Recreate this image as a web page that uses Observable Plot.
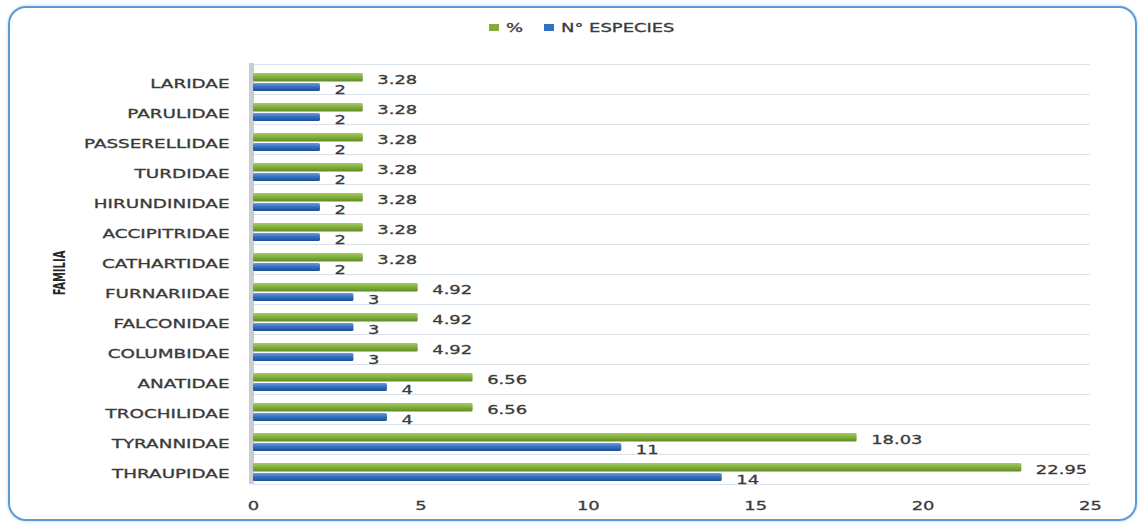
<!DOCTYPE html>
<html>
<head>
<meta charset="utf-8">
<script src="https://cdn.jsdelivr.net/npm/d3@7"></script>
<script src="https://cdn.jsdelivr.net/npm/@observablehq/plot@0.6"></script>
<style>
  html, body { margin: 0; padding: 0; background: #ffffff; }
  #wrap { position: relative; width: 1142px; height: 527px; overflow: hidden; background: #fff; }
  #frame { position: absolute; left: 8px; top: 6px; width: 1129px; height: 515px; box-sizing: border-box;
           border: 2.5px solid #5b9bd5; border-radius: 18px; box-shadow: 0 0 3px rgba(91,155,213,0.45); pointer-events: none; }
  #chart { position: absolute; left: 0; top: 0; }
  #chart text { stroke: #3a3a3a; stroke-width: 0.3px; }
  .leg { position: absolute; font-family: "DejaVu Sans", sans-serif; font-size: 13px; color: #3a3a3a; line-height: 1;
         transform: scaleX(1.38); transform-origin: left center; white-space: nowrap; -webkit-text-stroke: 0.3px #3a3a3a; }
  .key { position: absolute; width: 10px; height: 7px; }
  #ylab { position: absolute; left: 60px; top: 273px; transform: translate(-50%, -50%) rotate(-90deg) scaleX(0.74);
          font-family: "DejaVu Sans Condensed", "Liberation Sans Narrow", sans-serif; font-weight: bold; font-size: 15px; color: #262626; white-space: nowrap; line-height: 1; }
</style>
</head>
<body>
<div id="wrap">
  <div id="chart"></div>
  <div class="key" style="left:489px;top:24px;background:#7fae3a;"></div>
  <div class="leg" style="left:506px;top:21px;">%</div>
  <div class="key" style="left:544px;top:24px;background:#3470c2;"></div>
  <div class="leg" style="left:561px;top:21px;">N° ESPECIES</div>
  <div id="ylab">FAMILIA</div>
  <div id="frame"></div>
</div>
<script>
const families = ["LARIDAE","PARULIDAE","PASSERELLIDAE","TURDIDAE","HIRUNDINIDAE","ACCIPITRIDAE","CATHARTIDAE","FURNARIIDAE","FALCONIDAE","COLUMBIDAE","ANATIDAE","TROCHILIDAE","TYRANNIDAE","THRAUPIDAE"];
const percent = [3.28,3.28,3.28,3.28,3.28,3.28,3.28,4.92,4.92,4.92,6.56,6.56,18.03,22.95];
const especies = [2,2,2,2,2,2,2,3,3,3,4,4,11,14];
const xTicks = [0,5,10,15,20,25];

const rows = families.map((f, i) => ({family: f, pct: percent[i], n: especies[i]}));

const chart = Plot.plot({
  width: 1142,
  height: 527,
  marginLeft: 253,
  marginRight: 52,
  marginTop: 63,
  marginBottom: 43,
  style: {fontFamily: "DejaVu Sans, sans-serif", fontSize: "13px", color: "#3a3a3a", background: "transparent"},
  x: {domain: [0, 25], ticks: xTicks},
  y: {domain: families, padding: 0},
  marks: [
    Plot.ruleY(rows, {y: "family", dy: -15, stroke: "#d9e1ea", strokeWidth: 1.2}),
    Plot.ruleY(rows.slice(-1), {y: "family", dy: 15, stroke: "#d9e1ea", strokeWidth: 1.2}),
    Plot.ruleX([0], {stroke: "#c9cdd2", strokeWidth: 5, dx: -2}),
    Plot.barX(rows, {y: "family", x: "pct", fill: "url(#gGreen)", insetTop: 9, insetBottom: 12.5, rx: 1.5}),
    Plot.barX(rows, {y: "family", x: "n", fill: "url(#gBlue)", insetTop: 19, insetBottom: 3, rx: 1.5}),
    Plot.text(rows, {y: "family", x: "pct", text: d => d.pct.toFixed(2), textAnchor: "start", dx: 14, dy: 0, fill: "#3a3a3a"}),
    Plot.text(rows, {y: "family", x: "n", text: d => String(d.n), textAnchor: "start", dx: 14, dy: 10, fill: "#3a3a3a"}),
    Plot.axisX({ticks: xTicks, tickSize: 0, tickPadding: 16, label: null}),
    Plot.axisY({tickSize: 0, tickPadding: 24, dy: 5, fontSize: 12, label: null, ariaLabel: "y-axis"})
  ]
});

const ns = "http://www.w3.org/2000/svg";
const defs = document.createElementNS(ns, "defs");
function grad(id, stops) {
  const g = document.createElementNS(ns, "linearGradient");
  g.setAttribute("id", id);
  g.setAttribute("x1", "0"); g.setAttribute("y1", "0"); g.setAttribute("x2", "0"); g.setAttribute("y2", "1");
  stops.forEach(([o, c]) => {
    const s = document.createElementNS(ns, "stop");
    s.setAttribute("offset", o); s.setAttribute("stop-color", c);
    g.appendChild(s);
  });
  defs.appendChild(g);
}
grad("gGreen", [["0", "#a6cc64"], ["0.45", "#84b23f"], ["1", "#5e8a24"]]);
grad("gBlue", [["0", "#6a9bdc"], ["0.45", "#3671c3"], ["1", "#1f4e93"]]);
chart.insertBefore(defs, chart.firstChild);

document.getElementById("chart").appendChild(chart);

// widen the glyphs horizontally like the reference's stretched text, pivoting on each text's anchor
const yAxisTexts = new Set(chart.querySelectorAll('[aria-label="y-axis"] text, [aria-label="y-axis tick label"] text'));
chart.querySelectorAll("text").forEach(el => {
  const S = yAxisTexts.has(el) ? 1.53 : 1.38;
  const b = el.getBBox();
  const anchor = getComputedStyle(el).textAnchor;
  const px = anchor === "end" ? b.x + b.width : anchor === "middle" ? b.x + b.width / 2 : b.x;
  const t = el.getAttribute("transform") || "";
  el.setAttribute("transform", `${t} translate(${px},0) scale(${S},1) translate(${-px},0)`);
});
</script>
</body>
</html>
